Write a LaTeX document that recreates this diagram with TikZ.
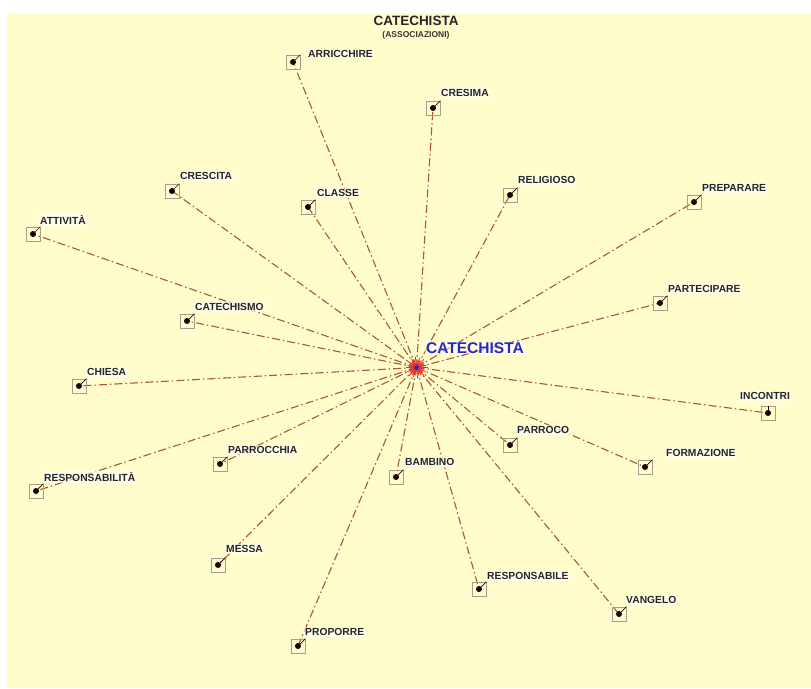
\documentclass[tikz,border=0pt]{standalone}
\usepackage{fontspec}
\setmainfont{Liberation Sans}
\definecolor{bgyellow}{RGB}{255,253,204}
\definecolor{linkcol}{RGB}{170,88,50}
\definecolor{boxgray}{RGB}{165,158,145}
\definecolor{cblue}{RGB}{40,40,200}
\definecolor{burst}{RGB}{240,50,40}
\tikzset{
  conn/.style={draw=linkcol, line width=1.1pt, dash pattern=on 8pt off 3pt on 1.5pt off 3pt},
  ptbox/.style={draw=boxgray, line width=0.7pt, minimum size=14pt, inner sep=0pt},
  lbl/.style={anchor=west, fill=white, fill opacity=0.6, text opacity=1, inner sep=1pt,
    font=\bfseries\fontsize{10.3}{12}\selectfont, text=black!85},
  leader/.style={draw=black!80!red, line width=0.7pt}
}
\begin{document}
\begin{tikzpicture}[x=1pt,y=-1pt]
\useasboundingbox (0,0) rectangle (811,688);
\fill[white] (0,0) rectangle (811,688);
\fill[bgyellow] (7,13) rectangle (811,688);
% title
\node[font=\bfseries\fontsize{13.5}{15}\selectfont, text=black!85] (title) at (416,20.5) {CATECHISTA};
\node[font=\bfseries\fontsize{8.5}{10}\selectfont, text=black!80] (subtitle) at (416,35.5) {(ASSOCIAZIONI)};
% centre
\coordinate (c) at (416.5,367.5);
% points
\foreach \n/\x/\y in {arr/293/62, cre/433/108, crs/172/191, cla/308/207, rel/510/195, pre/694/202,
  att/33/234, cat/187/321, par/660/303, chi/79/386, inc/768/413, prc/510/445, prh/220/464,
  for/645/467, bam/396/477, rsa/36/491, mes/218/565, rse/479/589, van/619/614, pro/298/646}
  {\coordinate (\n) at (\x,\y);}
% connectors
\foreach \n in {arr,cre,crs,cla,rel,pre,att,cat,par,chi,inc,prc,prh,for,bam,rsa,mes,rse,van,pro}
  {\draw[conn] (c) -- (\n);}
% boxes, dots, leaders
\foreach \n in {arr,cre,crs,cla,rel,pre,att,cat,par,chi,prc,prh,for,bam,rsa,mes,rse,van,pro}
  {\node[ptbox] (\n-b) at (\n) {};
   \draw[leader] (\n) -- (\n-b.north east);
   \fill[black!90!red] (\n) circle (3pt);}
\node[ptbox] (inc-b) at (inc) {};
\draw[leader] (inc) -- (inc-b.north);
\fill[black!90!red] (inc) circle (3pt);
% labels
\foreach \n/\lx/\ly/\t in {arr/307/53.5/ARRICCHIRE, cre/440/93/CRESIMA, crs/179/176/CRESCITA,
  cla/316/193/CLASSE, rel/517/180/RELIGIOSO, pre/701/188/PREPARARE, att/39/220/ATTIVITÀ,
  cat/194/307/CATECHISMO, par/667/289/PARTECIPARE, chi/86/372/CHIESA, inc/739/396/INCONTRI,
  prc/516/430/PARROCO, prh/227/450/PARROCCHIA, for/665/453/FORMAZIONE, bam/404/462/BAMBINO,
  rsa/43/477/RESPONSABILITÀ, mes/225/549/MESSA, rse/486/576/RESPONSABILE, van/625/600/VANGELO,
  pro/304/632/PROPORRE}
  {\node[lbl] (\n-l) at (\lx,\ly) {\t};}
% starburst
\foreach \a/\r in {0/11,12/8,24/10,36/7,48/11,60/9,72/8,84/11,96/7,108/10,120/9,132/11,144/8,
  156/10,168/7,180/11,192/9,204/8,216/11,228/7,240/10,252/9,264/11,276/8,288/10,300/7,312/11,
  324/9,336/8,348/10}
  {\draw[burst, line width=0.8pt] (c) -- ++(\a:\r);}
\fill[cblue] (c) circle (2.5pt);
\node[anchor=west, font=\bfseries\fontsize{15.5}{17}\selectfont, text=cblue, fill=white, fill opacity=0.5, text opacity=1, inner sep=1pt] (clabel) at (425,348) {CATECHISTA};
\end{tikzpicture}
\end{document}
